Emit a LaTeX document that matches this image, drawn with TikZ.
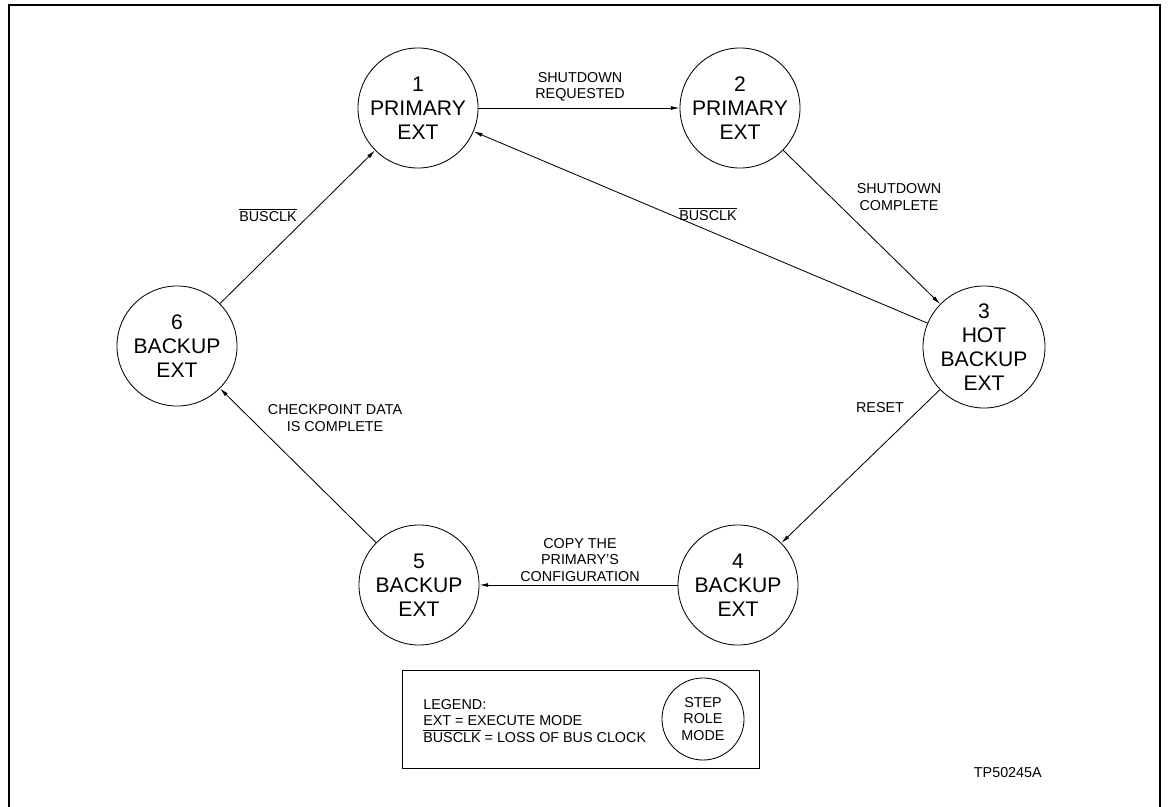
\documentclass[tikz,border=0pt]{standalone}
\usepackage{fontspec}
\setmainfont{Liberation Sans}
\usetikzlibrary{arrows.meta, positioning}
\newcommand{\BusClk}{$\overline{\mbox{BUSCLK}}$}

\begin{document}
\begin{tikzpicture}[x=0.025cm, y=-0.025cm,
    stateNode/.style={circle, draw, line width=0.6pt, minimum size=3cm, inner sep=0pt, align=center, font=\fontsize{15}{17}\selectfont},
    edgeLabel/.style={align=center, inner sep=0pt, font=\fontsize{10.2}{11.8}\selectfont},
    flowArrow/.style={-{Latex[length=2.2mm, width=1mm]}, line width=0.6pt}]
    \useasboundingbox (0,0) rectangle (1168,807);

    % Frame
    \draw[line width=1.3pt] (9,807) -- (9,5) -- (1160,5) -- (1160,807);

    % States
    \node[stateNode] (s1) at (418,108) {1\\PRIMARY\\EXT};
    \node[stateNode] (s2) at (740,108) {2\\PRIMARY\\EXT};
    \node[stateNode] (s3) at (984,347) {3\\HOT\\BACKUP\\EXT};
    \node[stateNode] (s4) at (738,585) {4\\BACKUP\\EXT};
    \node[stateNode] (s5) at (419,585) {5\\BACKUP\\EXT};
    \node[stateNode] (s6) at (177,346) {6\\BACKUP\\EXT};

    % Transitions
    \draw[flowArrow] (s1) -- (s2);
    \draw[flowArrow] (s2) -- (s3);
    \draw[flowArrow] (s3) -- (s1);
    \draw[flowArrow] (s3) -- (s4);
    \draw[flowArrow] (s4) -- (s5);
    \draw[flowArrow] (s5) -- (s6);
    \draw[flowArrow] (s6) -- (s1);

    % Transition labels
    \node[edgeLabel] (lblReq) at (580,87) {SHUTDOWN\\REQUESTED};
    \node[edgeLabel] (lblDone) at (899,197) {SHUTDOWN\\COMPLETE};
    \node[edgeLabel] (lblBusA) at (708,214) {\BusClk};
    \node[edgeLabel] (lblBusB) at (268,215) {\BusClk};
    \node[edgeLabel] (lblReset) at (880,408) {RESET};
    \node[edgeLabel] (lblCheck) at (335,418) {CHECKPOINT DATA\\IS COMPLETE};
    \node[edgeLabel] (lblCopy) at (580,560) {COPY THE\\PRIMARY'S\\CONFIGURATION};

    % Legend
    \draw[line width=0.6pt] (402,670) rectangle (759,768);
    \node[edgeLabel, align=left, anchor=west] (legendText) at (423,721) {LEGEND:\\EXT = EXECUTE MODE\\\BusClk{} = LOSS OF BUS CLOCK};
    \node[stateNode, minimum size=2.05cm, font=\fontsize{10.2}{11.8}\selectfont] (legendKey) at (703,719) {STEP\\ROLE\\MODE};

    % Figure tag
    \node[edgeLabel, anchor=east] (figTag) at (1042,773) {TP50245A};
\end{tikzpicture}
\end{document}
